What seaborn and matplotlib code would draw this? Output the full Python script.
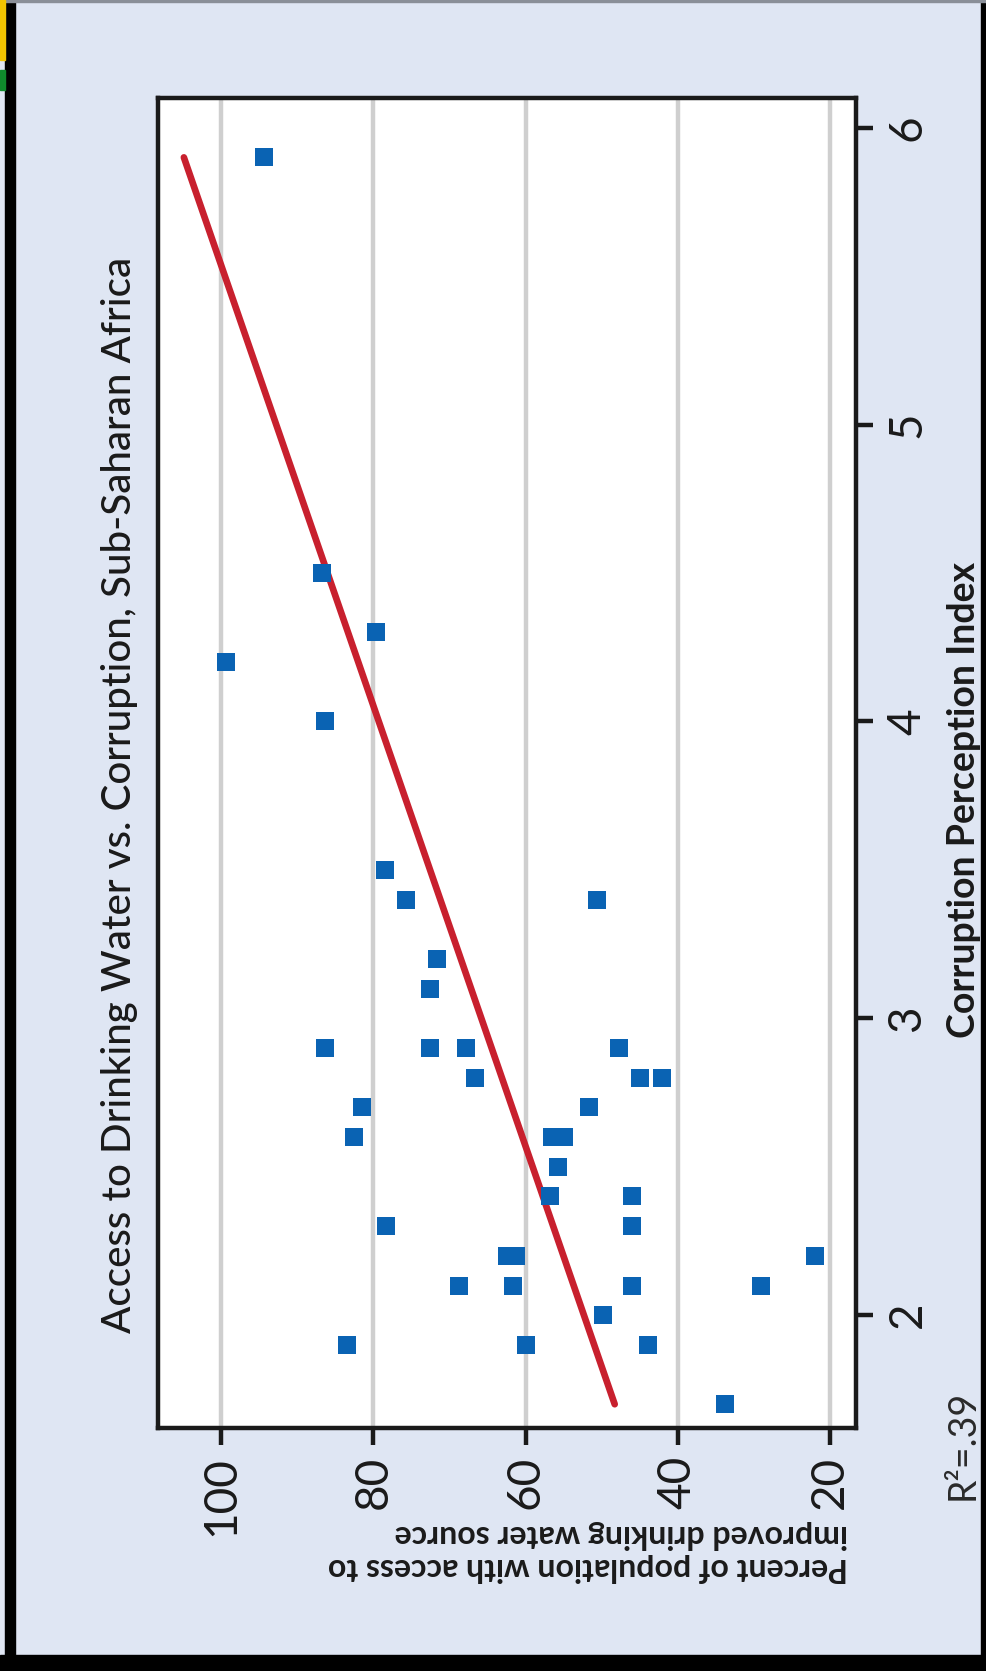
import matplotlib
matplotlib.use("Agg")
import matplotlib.pyplot as plt
import matplotlib.patches as mpatches
import seaborn as sns
import pandas as pd

# ---- data ----
cpi = [5.9, 4.5, 4.3, 4.2, 4.0, 3.5, 3.4, 3.4, 3.2, 3.1,
       2.9, 2.9, 2.9, 2.9, 2.8, 2.8, 2.8, 2.7, 2.7, 2.6,
       2.6, 2.6, 2.5, 2.4, 2.4, 2.3, 2.3, 2.2, 2.2, 2.2,
       2.1, 2.1, 2.1, 2.1, 2.0, 1.9, 1.9, 1.9, 1.7]
water = [94.4, 86.7, 79.7, 99.4, 86.4, 78.5, 75.7, 50.6, 71.7, 72.6,
         86.4, 72.6, 67.8, 47.8, 66.6, 45.0, 42.1, 81.5, 51.7, 82.5,
         56.6, 55.0, 55.8, 56.8, 46.0, 78.3, 46.0, 62.5, 61.3, 22.0,
         68.7, 61.7, 46.0, 29.1, 49.8, 83.5, 59.9, 43.9, 33.8]
fit_cpi = [1.70, 5.90]
fit_water = [48.3, 104.9]
water_ticks = [100, 80, 60, 40, 20]
cpi_ticks = [2, 3, 4, 5, 6]
title = "Access to Drinking Water vs. Corruption, Sub-Saharan Africa"
xlabel = "Corruption Perception Index"
ylabel = "Percent of population with access to\nimproved drinking water source"
r2_text = "R\u00b2=.39"

df = pd.DataFrame({"cpi": cpi, "water": water})
fit = pd.DataFrame({"cpi": fit_cpi, "water": fit_water})

sns.set_style("white")
plt.rcParams["font.family"] = ["Lato", "DejaVu Sans"]

BG = "#dfe6f3"
INK = "#1a1a1a"
W, H = 987, 1671
fig = plt.figure(figsize=(W / 100, H / 100), dpi=100, facecolor=BG)

ax_l, ax_r, ax_t, ax_b = 158, 856, 98, 1428
ax = fig.add_axes([ax_l / W, 1 - ax_b / H, (ax_r - ax_l) / W, (ax_b - ax_t) / H])
ax.set_facecolor("white")

# rotated chart: percent runs horizontally (100 at left), CPI vertically
sns.lineplot(data=fit, x="water", y="cpi", ax=ax, color="#c8202e", linewidth=4.8,
             sort=False, estimator=None, zorder=3)
sns.scatterplot(data=df, x="water", y="cpi", ax=ax, marker="s", s=175,
                color="#0a63b3", linewidth=0, zorder=4)

ax.set_xlim(108.3, 16.6)
ax.set_ylim(1.62, 6.1)
ax.set_xticks(water_ticks)
ax.set_yticks(cpi_ticks)
ax.grid(axis="x", color="#cfcfcf", linewidth=3.2, zorder=0)
ax.grid(axis="y", visible=False)
ax.set_axisbelow(True)

for sp in ax.spines.values():
    sp.set_visible(True)
    sp.set_color(INK)
    sp.set_linewidth(3.2)

ax.yaxis.tick_right()
ax.tick_params(axis="x", bottom=True, direction="out", length=12, width=3.2,
               color=INK, labelcolor=INK, pad=8, labelsize=33, labelrotation=90)
ax.tick_params(axis="y", right=True, left=False, direction="out", length=12, width=3.2,
               color=INK, labelcolor=INK, pad=10, labelsize=33, labelrotation=90)
for lab in ax.get_xticklabels():
    lab.set_va("top")
for lab in ax.get_yticklabels():
    lab.set_va("center")
    lab.set_ha("left")
ax.set_xlabel("")
ax.set_ylabel("")

# titles and labels (rotated)
fig.text(120 / W, 1 - 795 / H, title, rotation=90, ha="center", va="center",
         fontsize=29, fontweight="medium", color=INK)
fig.text(964 / W, 1 - 800 / H, xlabel, rotation=90, ha="center", va="center",
         fontsize=27, fontweight="bold", color=INK)
fig.text(588 / W, 1 - 1551 / H, ylabel, rotation=180, ha="center", va="center",
         fontsize=23, fontweight="bold", color=INK, linespacing=1.2,
         multialignment="left")
fig.text(963 / W, 1 - 1445 / H, r2_text, rotation=90, ha="center", va="center",
         fontsize=27, color="#2a2a2a")

# frame decorations
def frect(x0, y0, x1, y1, c):
    fig.patches.append(mpatches.Rectangle((x0 / W, 1 - y1 / H), (x1 - x0) / W, (y1 - y0) / H,
                                          transform=fig.transFigure, color=c, zorder=10))

frect(5, 0, 15, H, "black")
frect(0, 1655, W, H, "black")
frect(981, 0, W, H, "black")
frect(0, 0, W, 2, "#8a8f98")
frect(0, 0, 5, 60, "#f2c400")
frect(0, 70, 5, 90, "#0f8a2c")

fig.savefig("out.png", dpi=100, facecolor=BG)
